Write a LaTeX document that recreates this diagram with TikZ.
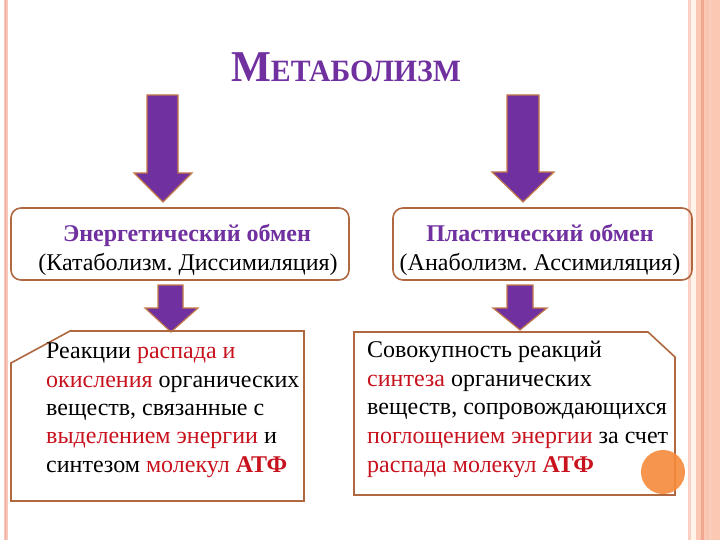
\documentclass[tikz,border=0pt]{standalone}
\usepackage{fontspec}
\setmainfont{Liberation Serif}
\frenchspacing
\definecolor{purp}{RGB}{112,48,160}
\definecolor{arrowedge}{RGB}{196,122,72}
\definecolor{boxedge}{RGB}{176,104,64}
\definecolor{redtxt}{RGB}{200,18,30}
\definecolor{pinkline}{RGB}{246,198,186}
\definecolor{pinkcore}{RGB}{240,176,160}
\definecolor{palepink}{RGB}{248,208,196}
\definecolor{cream}{RGB}{255,244,234}
\definecolor{salmon}{RGB}{251,200,180}
\definecolor{darksalmon}{RGB}{240,168,146}
\definecolor{dotorange}{RGB}{246,138,58}
\newcommand{\rd}[1]{\textcolor{redtxt}{#1}}
\tikzset{
  blockarrow/.style={fill=purp, draw=arrowedge, line width=1.2pt, line join=miter},
  roundbox/.style={draw=boxedge, line width=1.6pt, rounded corners=10pt, minimum width=338pt, minimum height=72pt, inner sep=0pt},
  snipbox/.style={draw=boxedge, line width=1.6pt, line join=miter},
  txt/.style={font=\fontsize{24}{28}\selectfont, inner sep=0pt},
}
\begin{document}
\begin{tikzpicture}[x=1pt,y=-1pt]
\useasboundingbox (0,0) rectangle (720,540);
\fill[white] (0,0) rectangle (720,540);
% left border stripe
\fill[pinkline] (3.5,0) rectangle (7.5,540);
\fill[pinkcore] (4.8,0) rectangle (6.2,540);
% right decorative stripes
\fill[palepink] (688,0) rectangle (691,540);
\fill[cream] (691,0) rectangle (696,540);
\fill[salmon] (696,0) rectangle (720,540);
\fill[darksalmon] (701,0) rectangle (704,540);
\draw[darksalmon!70, line width=0.6pt] (707,0) -- (707,540);
\draw[darksalmon!50, line width=0.6pt] (710,0) -- (710,540);

% title
\node[anchor=base, text=purp, font=\bfseries, inner sep=0pt, xscale=0.96] (title) at (346,82)
  {{\fontsize{44}{44}\selectfont М}{\fontsize{31}{31}\selectfont ЕТАБОЛИЗМ}};

% big arrows
\draw[blockarrow] (147,95) -- (178,95) -- (178,173) -- (192,173) -- (163,202) -- (134,173) -- (147,173) -- cycle;
\draw[blockarrow] (507,95) -- (539,95) -- (539,172) -- (554,172) -- (523,202) -- (492,172) -- (507,172) -- cycle;

% upper boxes
\node[roundbox] (energ) at (180,244) {};
\node[roundbox, minimum width=299pt] (plast) at (542.5,244) {};
\node[txt, anchor=base, text=purp, font=\fontsize{24}{28}\selectfont\bfseries] (e1) at (187,241) {Энергетический обмен};
\node[txt, anchor=base] (e2) at (188,270) {(Катаболизм. Диссимиляция)};
\node[txt, anchor=base, text=purp, font=\fontsize{24}{28}\selectfont\bfseries] (p1) at (540,241) {Пластический обмен};
\node[txt, anchor=base] (p2) at (540,270) {(Анаболизм. Ассимиляция)};

% small arrows
\draw[blockarrow] (158,285) -- (183,285) -- (183,308) -- (198,308) -- (171,332) -- (145,308) -- (158,308) -- cycle;
\draw[blockarrow] (507,285) -- (533,285) -- (533,308) -- (547,308) -- (520,330) -- (493,308) -- (507,308) -- cycle;

% lower boxes
\draw[snipbox] (11,363) -- (70,331) -- (304,331) -- (304,501) -- (11,501) -- cycle;
\draw[snipbox] (354,332) -- (648,332) -- (675,357) -- (675,495) -- (354,495) -- cycle;
\fill[dotorange, fill opacity=0.9] (663,472) circle (22);

% left text
\node[txt, anchor=base west] (l1) at (46,358) {Реакции \rd{распада и}};
\node[txt, anchor=base west] (l2) at (46,387) {\rd{окисления} органических};
\node[txt, anchor=base west] (l3) at (46,415) {веществ, связанные с};
\node[txt, anchor=base west] (l4) at (46,443) {\rd{выделением энергии} и};
\node[txt, anchor=base west] (l5) at (46,472) {синтезом \rd{молекул \textbf{АТФ}}};

% right text
\node[txt, anchor=base west] (r1) at (367,357) {Совокупность реакций};
\node[txt, anchor=base west] (r2) at (367,386) {\rd{синтеза} органических};
\node[txt, anchor=base west] (r3) at (367,414) {веществ, сопровождающихся};
\node[txt, anchor=base west] (r4) at (367,443) {\rd{поглощением энергии} за счет};
\node[txt, anchor=base west] (r5) at (367,472) {\rd{распада молекул \textbf{АТФ}}};
\end{tikzpicture}
\end{document}
